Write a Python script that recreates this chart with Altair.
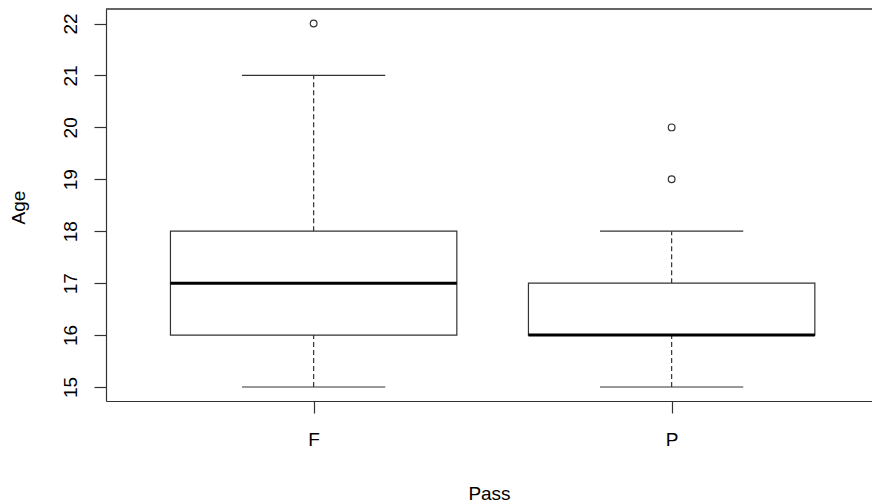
import altair as alt
import pandas as pd

# Data
categories = ["F", "P"]
lower_whisker = [15, 15]
q1 = [16, 16]
median = [17, 16]
q3 = [18, 17]
upper_whisker = [21, 18]

outlier_cat = ["F", "P", "P"]
outlier_val = [22, 20, 19]

y_ticks = [15, 16, 17, 18, 19, 20, 21, 22]

box_df = pd.DataFrame({
    "Pass": categories,
    "lower": lower_whisker,
    "q1": q1,
    "median": median,
    "q3": q3,
    "upper": upper_whisker,
})
box_df["pos"] = range(1, len(categories) + 1)
box_df["x_lo"] = box_df["pos"] - 0.4
box_df["x_hi"] = box_df["pos"] + 0.4
box_df["cap_lo"] = box_df["pos"] - 0.2
box_df["cap_hi"] = box_df["pos"] + 0.2

out_df = pd.DataFrame({"Pass": outlier_cat, "Age": outlier_val})
out_df["pos"] = out_df["Pass"].map({c: i + 1 for i, c in enumerate(categories)})

W, H = 766, 392
LINE = "#333333"
FONT = "Liberation Sans"
FS = 19

xscale = alt.Scale(domain=[0.42, 0.42 + W / 358.0], nice=False, zero=False)
yscale = alt.Scale(domain=[14.73, 22.28], nice=False, zero=False)

xaxis = alt.Axis(
    values=[1, 2],
    labelExpr="datum.value == 1 ? 'F' : 'P'",
    grid=False, domainColor=LINE, tickColor=LINE, tickSize=12,
    labelFont=FONT, labelFontSize=FS, labelColor="#000000", labelPadding=17,
    titleFont=FONT, titleFontSize=FS, titleFontWeight="normal", titleColor="#000000",
    titleY=98, titleBaseline="alphabetic",
)
yaxis = alt.Axis(
    values=y_ticks, format="d",
    grid=False, domainColor=LINE, tickColor=LINE, tickSize=12,
    labelFont=FONT, labelFontSize=FS, labelColor="#000000",
    labelAngle=-90, labelAlign="center", labelBaseline="bottom", labelPadding=14,
    titleFont=FONT, titleFontSize=FS, titleFontWeight="normal", titleColor="#000000",
    titleX=-88, titleY=198, titleAngle=-90, titleAlign="center", titleBaseline="middle",
)

base = alt.Chart(box_df)

box = base.mark_rect(fill="white", stroke=LINE, strokeWidth=1.2).encode(
    x=alt.X("x_lo:Q", scale=xscale, axis=xaxis, title="Pass"),
    x2="x_hi:Q",
    y=alt.Y("q1:Q", scale=yscale, axis=yaxis, title="Age"),
    y2="q3:Q",
)

med = base.mark_rule(color="#000000", strokeWidth=3).encode(
    x="x_lo:Q", x2="x_hi:Q", y="median:Q"
)

whisk_up = base.mark_rule(color=LINE, strokeWidth=1.2, strokeDash=[5, 3]).encode(
    x="pos:Q", y="q3:Q", y2="upper:Q"
)
whisk_lo = base.mark_rule(color=LINE, strokeWidth=1.2, strokeDash=[5, 3]).encode(
    x="pos:Q", y="lower:Q", y2="q1:Q"
)
cap_up = base.mark_rule(color=LINE, strokeWidth=1.2).encode(
    x="cap_lo:Q", x2="cap_hi:Q", y="upper:Q"
)
cap_lo = base.mark_rule(color=LINE, strokeWidth=1.2).encode(
    x="cap_lo:Q", x2="cap_hi:Q", y="lower:Q"
)

outliers = alt.Chart(out_df).mark_point(
    shape="circle", filled=False, size=45, color=LINE, strokeWidth=1.2, opacity=1
).encode(x="pos:Q", y="Age:Q")

top_frame = alt.Chart(box_df).mark_rule(color=LINE, strokeWidth=1.2).encode(
    x=alt.value(0), x2=alt.value(W), y=alt.value(0)
)

chart = alt.layer(
    whisk_up, whisk_lo, box, med, cap_up, cap_lo, outliers, top_frame
).properties(
    width=W, height=H,
    autosize=alt.AutoSizeParams(type="none"),
    padding={"left": 106, "top": 9, "right": 0, "bottom": 102},
    background="white",
).configure_view(stroke=None).configure_axis(domainWidth=1.2, tickWidth=1.2)

chart.save("out.html", embed_options={"renderer": "svg", "actions": False})
